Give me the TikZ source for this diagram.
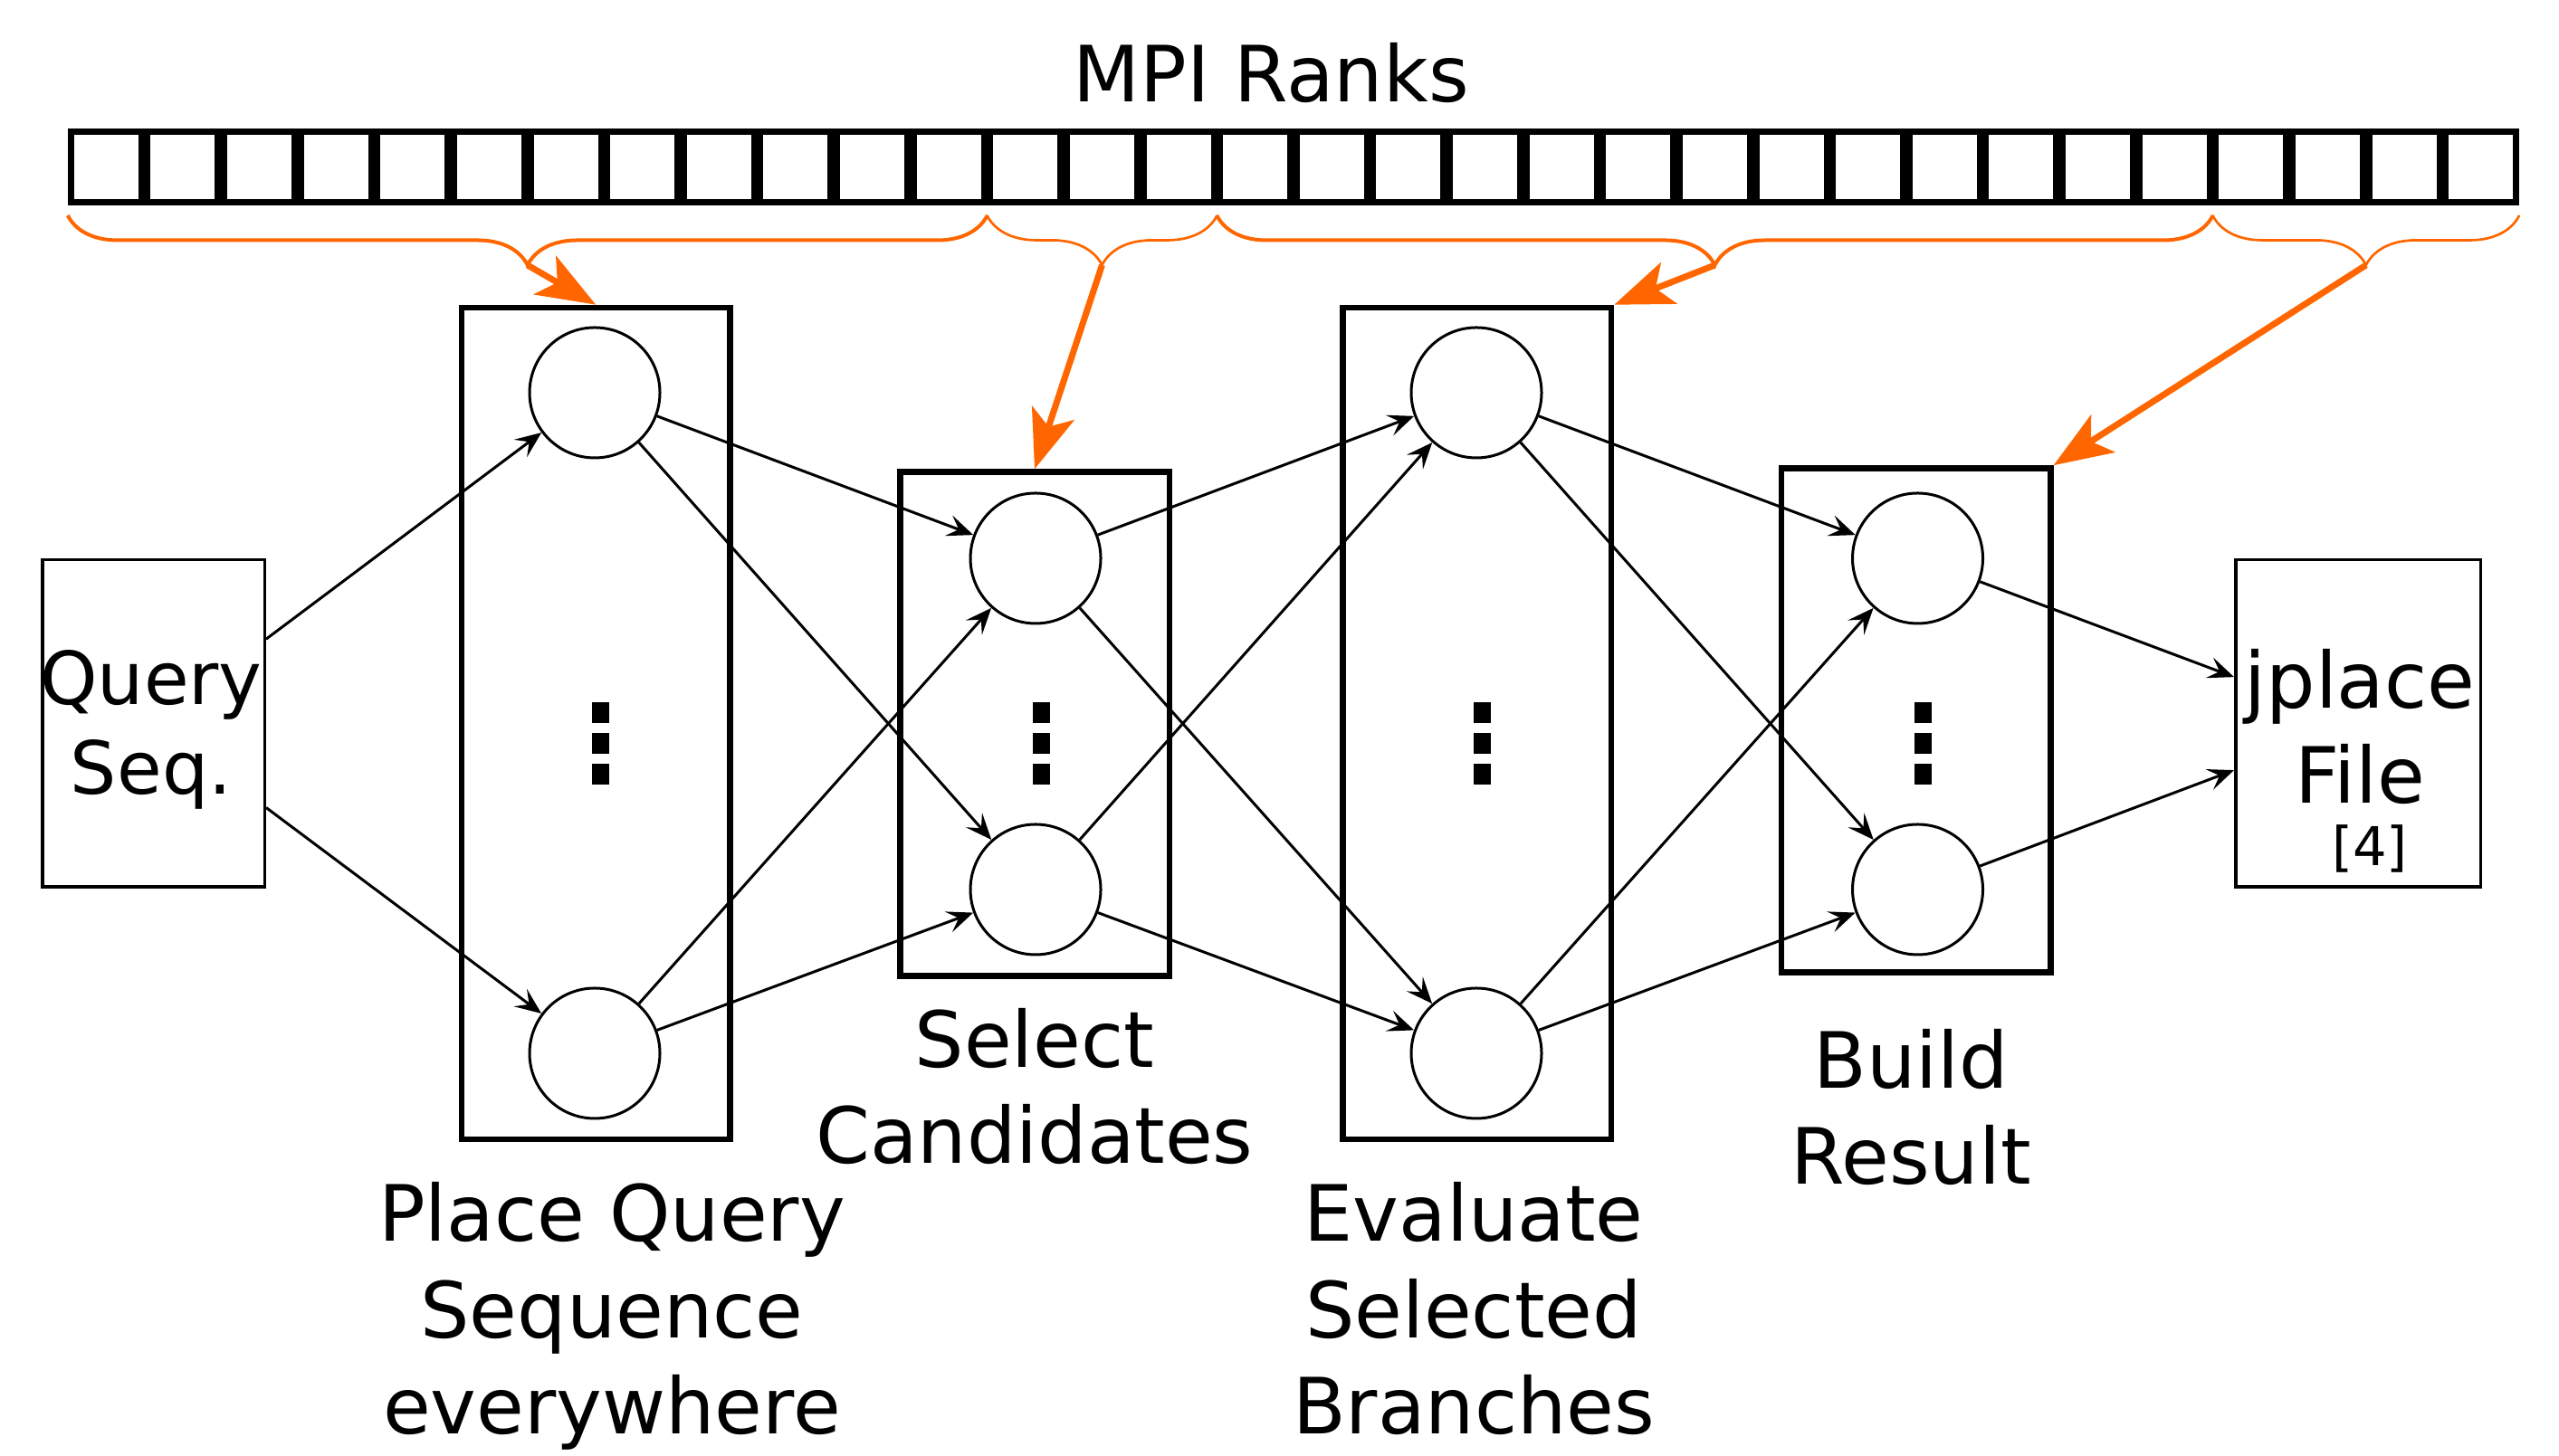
\documentclass[tikz,border=0pt]{standalone}
\usepackage{fontspec}
\setmainfont{DejaVu Sans}
\usetikzlibrary{arrows.meta,decorations.pathreplacing,calc}
\definecolor{rankorange}{HTML}{FF6600}
\newcommand{\labelfont}{\fontsize{24.4pt}{30.4pt}\selectfont}
\newcommand{\queryfont}{\fontsize{23pt}{28.2pt}\selectfont}
\newcommand{\filefont}{\fontsize{24.4pt}{29.9pt}\selectfont}
\newcommand{\reffont}{\fontsize{16.8pt}{20pt}\selectfont}

\begin{document}
\begin{tikzpicture}[
  rankcell/.style={draw, line width=0.07cm, minimum width=0.78cm, minimum height=0.78cm, inner sep=0pt},
  stagebox/.style={draw, line width=0.065cm, inner sep=0pt},
  worker/.style={draw, circle, line width=0.03cm, minimum size=1.44cm, inner sep=0pt},
  filebox/.style={draw, line width=0.035cm, minimum height=3.615cm, inner sep=0pt},
  flow/.style={-{Stealth[length=2.9mm, width=2.4mm, inset=1.2mm]}, line width=0.03cm},
  rankbrace/.style={rankorange, decorate, decoration={brace, mirror, amplitude=5.5mm}},
  feed/.style={rankorange, line width=0.07cm, -{Stealth[length=6.5mm, width=4.9mm, inset=1.6mm]}},
  lbl/.style={align=center, font=\labelfont, anchor=base, inner sep=0pt}
]
\useasboundingbox (0,0) rectangle (28.27,16.09);

% ranks
\foreach \i in {0,...,31}
  \node[rankcell] (r\i) at ({0.75+(\i+0.5)*0.84625}, 14.245) {};
\node[lbl] (mpi) at (14.04, 14.96) {MPI Ranks};

\draw[rankbrace, line width=0.04cm] ([yshift=-1.1mm]r0.south west) -- ([yshift=-1.1mm]r11.south east);
\draw[rankbrace, line width=0.027cm] ([yshift=-1.1mm]r12.south west) -- ([yshift=-1.1mm]r14.south east);
\draw[rankbrace, line width=0.04cm] ([yshift=-1.1mm]r15.south west) -- ([yshift=-1.1mm]r27.south east);
\draw[rankbrace, line width=0.027cm] ([yshift=-1.1mm]r28.south west) -- ([yshift=-1.1mm]r31.south east);
\coordinate (t1) at ($(r0.south west)!0.5!(r11.south east)+(0,-0.66)$);
\coordinate (t2) at ($(r12.south west)!0.5!(r14.south east)+(0,-0.66)$);
\coordinate (t3) at ($(r15.south west)!0.5!(r27.south east)+(0,-0.66)$);
\coordinate (t4) at ($(r28.south west)!0.5!(r31.south east)+(0,-0.66)$);

% stages
\node[stagebox, minimum width=2.965cm, minimum height=9.19cm] (b1) at (6.5825, 8.095) {};
\node[stagebox, minimum width=2.975cm, minimum height=5.57cm] (b2) at (11.43, 8.09) {};
\node[stagebox, minimum width=2.965cm, minimum height=9.19cm] (b3) at (16.3175, 8.095) {};
\node[stagebox, minimum width=2.975cm, minimum height=5.57cm] (b4) at (21.165, 8.13) {};

\node[worker] (c1a) at (6.57, 11.75) {};
\node[worker] (c1b) at (6.57, 4.45) {};
\node[worker] (c2a) at (11.44, 9.92) {};
\node[worker] (c2b) at (11.44, 6.26) {};
\node[worker] (c3a) at (16.31, 11.75) {};
\node[worker] (c3b) at (16.31, 4.45) {};
\node[worker] (c4a) at (21.185, 9.92) {};
\node[worker] (c4b) at (21.185, 6.26) {};

\foreach \x in {6.63, 11.50, 16.37, 21.24}
  \foreach \k in {0,1,2}
    \fill ({\x-0.095}, {8.33-0.34*\k}) rectangle +(0.19,-0.23);

% input and output
\node[filebox, minimum width=2.455cm] (query) at (1.695, 8.095) {};
\node[lbl, font=\queryfont] (querytxt) at (1.67, 7.31) {Query\\Seq.};
\node[filebox, minimum width=2.705cm] (jplace) at (26.05, 8.095) {};
\node[lbl, font=\filefont] (jplacetxt) at (26.07, 7.21) {jplace\\File};
\node[anchor=base, inner sep=0pt, font=\reffont] (cite) at (26.18, 6.52) {[4]};

\draw[flow] (query) -- (c1a);
\draw[flow] (query) -- (c1b);
\foreach \a/\b in {1/2, 2/3, 3/4}
  \foreach \s in {a,b}
    \foreach \t in {a,b}
      \draw[flow] (c\a\s) -- (c\b\t);
\draw[flow] (c4a) -- (jplace);
\draw[flow] (c4b) -- (jplace);

\draw[feed] (t1) -- (b1.north);
\draw[feed] (t2) -- (b2.north);
\draw[feed] (t3) -- (b3.north east);
\draw[feed] (t4) -- (b4.north east);

% stage labels
\node[lbl] (placelbl) at (6.76, 0.24) {Place Query\\Sequence\\everywhere};
\node[lbl] (selectlbl) at (11.43, 3.23) {Select\\Candidates};
\node[lbl] (evallbl) at (16.28, 0.24) {Evaluate\\Selected\\Branches};
\node[lbl] (buildlbl) at (21.11, 3.00) {Build\\Result};
\end{tikzpicture}
\end{document}
